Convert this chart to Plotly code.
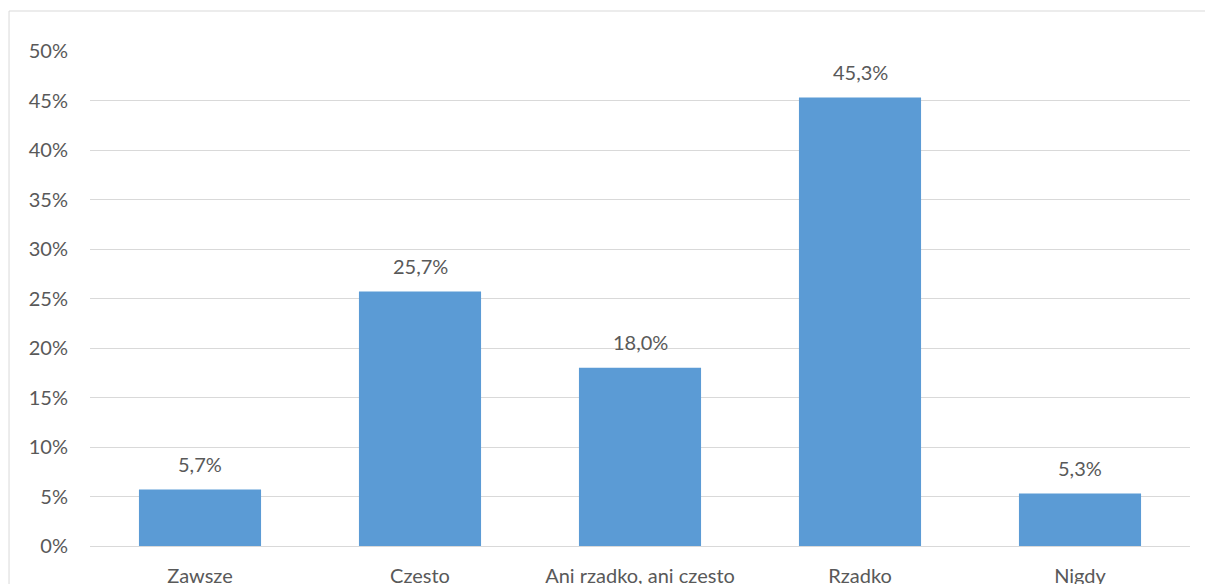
import plotly.graph_objects as go

categories = ["Zawsze", "Czesto", "Ani rzadko, ani czesto", "Rzadko", "Nigdy"]
values = [5.7, 25.7, 18.0, 45.3, 5.3]
y_ticks = [0, 5, 10, 15, 20, 25, 30, 35, 40, 45, 50]
y_tick_labels = [f"{t}%" for t in y_ticks]

labels = [f"{v:.1f}".replace(".", ",") + "%" for v in values]

FONT = "Lato, Open Sans, sans-serif"
TEXT = "#595959"
GRID = "#d9d9d9"
SIZE = 20

fig = go.Figure(
    go.Bar(
        x=categories,
        y=values,
        marker=dict(color="#5b9bd5", line=dict(width=0)),
        hoverinfo="x+y",
    )
)

# value labels above each bar
for cat, val, lab in zip(categories, values, labels):
    fig.add_annotation(
        x=cat, y=val, text=lab, showarrow=False,
        yanchor="middle", yshift=26,
        font=dict(family=FONT, size=SIZE, color=TEXT),
    )

fig.update_layout(
    width=1205,
    height=584,
    margin=dict(l=90, r=15, t=51, b=38),
    paper_bgcolor="white",
    plot_bgcolor="white",
    bargap=0.445,
    showlegend=False,
    font=dict(family=FONT, size=SIZE, color=TEXT),
    xaxis=dict(
        automargin=False,
        showgrid=False,
        showline=True,
        linecolor=GRID,
        linewidth=1,
        ticks="outside",
        ticklen=12,
        tickcolor="rgba(0,0,0,0)",
        tickfont=dict(family=FONT, size=SIZE, color=TEXT),
    ),
    yaxis=dict(
        automargin=False,
        range=[0, 50],
        tickmode="array",
        tickvals=y_ticks,
        ticktext=y_tick_labels,
        showgrid=True,
        gridcolor=GRID,
        gridwidth=1,
        zeroline=False,
        showline=False,
        ticklabelstandoff=21,
        tickfont=dict(family=FONT, size=SIZE, color=TEXT),
    ),
    shapes=[
        dict(
            type="rect",
            xref="paper",
            yref="paper",
            x0=-0.0736,
            x1=1.03,
            y0=-0.12,
            y1=1.0808,
            line=dict(color=GRID, width=1),
            fillcolor="rgba(0,0,0,0)",
            layer="below",
        )
    ],
)

fig.write_html("out.html")
